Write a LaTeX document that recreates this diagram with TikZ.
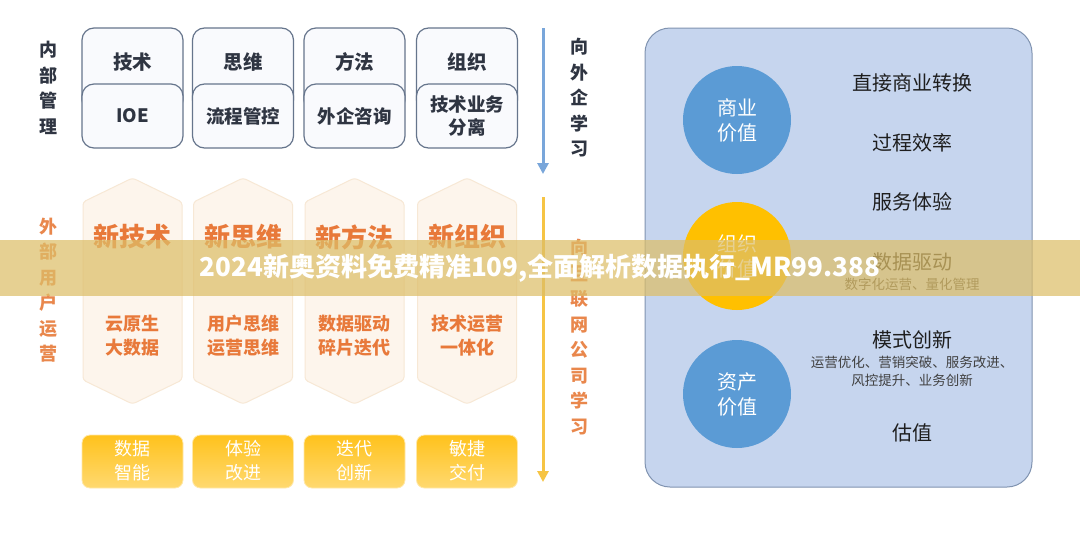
\documentclass[tikz,border=0pt]{standalone}
\usepackage{fontspec}
\setmainfont{Noto Sans CJK SC}
\usetikzlibrary{arrows.meta}
\definecolor{darkTxt}{HTML}{2F3542}
\definecolor{boxBorder}{HTML}{66758C}
\definecolor{boxFill}{HTML}{F9FAFD}
\definecolor{hexFill}{HTML}{FDF5EC}
\definecolor{hexEdge}{HTML}{F7E8D5}
\definecolor{orangeTxt}{HTML}{E8793A}
\definecolor{orangeLbl}{HTML}{E9874C}
\definecolor{yellowTop}{HTML}{FFC21C}
\definecolor{yellowBot}{HTML}{FFD970}
\definecolor{blueArrow}{HTML}{79A6DA}
\definecolor{orangeArrow}{HTML}{F6C444}
\definecolor{panelFill}{HTML}{C6D5EE}
\definecolor{panelEdge}{HTML}{8093B0}
\definecolor{blueCircle}{HTML}{5B9BD5}
\definecolor{yellowCircle}{HTML}{FFC000}
\definecolor{rightTxt}{HTML}{1E1E1E}
\definecolor{subTxt}{HTML}{404040}
\definecolor{bannerCol}{HTML}{DDBE68}
\newcommand\myfs[2]{\fontsize{#1}{#2}\selectfont}
\begin{document}
\begin{tikzpicture}[x=1pt,y=-1pt,
  vlabel/.style={align=center,inner sep=0pt,font=\myfs{18}{25.5}\bfseries},
  topbox/.style={draw=boxBorder,line width=1.2pt,fill=boxFill,rounded corners=12pt},
  toptxt/.style={align=center,inner sep=0pt,text=darkTxt,font=\myfs{19.5}{24}\bfseries},
  lowtxt/.style={align=center,inner sep=0pt,text=darkTxt,font=\myfs{18.5}{23}\bfseries},
  hexagonbox/.style={fill=hexFill,draw=hexEdge,line width=1pt,rounded corners=3pt},
  hextitle/.style={inner sep=0pt,text=orangeTxt,font=\myfs{26}{30}\bfseries},
  hexsub/.style={align=center,inner sep=0pt,text=orangeTxt,font=\myfs{18}{24}\bfseries},
  yellowbox/.style={rounded corners=8pt,top color=yellowTop,bottom color=yellowBot,draw=yellowBot!60!white,line width=0.8pt},
  yellowtxt/.style={align=center,inner sep=0pt,text=white,font=\myfs{18}{24}},
  flowarrow/.style={line width=3pt,-{Triangle[length=11pt,width=11pt]}},
  valcircle/.style={circle,minimum size=108pt,inner sep=0pt,align=center,text=white,font=\myfs{20}{25}},
  rtxt/.style={inner sep=0pt,text=rightTxt,font=\myfs{20}{24}},
  rsub/.style={align=center,inner sep=0pt,text=subTxt,font=\myfs{13.5}{18}},
  bannertxt/.style={inner sep=0pt,text=white,font=\myfs{26}{30}\bfseries}
]
\useasboundingbox (0,0) rectangle (1080,536);
\fill[white] (0,0) rectangle (1080,536);

% left vertical labels
\node[vlabel,text=darkTxt] (lblIn) at (48,88) {内\\部\\管\\理};
\node[vlabel,text=orangeLbl] (lblOut) at (48,290) {外\\部\\用\\户\\运\\营};

% columns
\foreach \i/\cx/\upt/\lowt/\htitle/\hsubt/\ybt in {
  1/132.5/技术/IOE/新技术/{云原生\\大数据}/{数据\\智能},
  2/243/思维/流程管控/新思维/{用户思维\\运营思维}/{体验\\改进},
  3/354.5/方法/外企咨询/新方法/{数据驱动\\碎片迭代}/{迭代\\创新},
  4/467/组织/{技术业务\\分离}/新组织/{技术运营\\一体化}/{敏捷\\交付}}{
  \draw[topbox] (\cx-50.5,28) rectangle (\cx+50.5,112);
  \node[toptxt] (up\i) at (\cx,62) {\upt};
  \draw[topbox] (\cx-50.5,84) rectangle (\cx+50.5,148);
  \node[lowtxt] (low\i) at (\cx,116) {\lowt};
  \filldraw[hexagonbox] (\cx,178) -- (\cx+49.5,202) -- (\cx+49.5,380) -- (\cx,404)
     -- (\cx-49.5,380) -- (\cx-49.5,202) -- cycle;
  \node[hextitle] (ht\i) at (\cx,237) {\htitle};
  \node[hexsub] (hs\i) at (\cx,336) {\hsubt};
  \draw[yellowbox] (\cx-50.5,435) rectangle (\cx+50.5,488);
  \node[yellowtxt] (yb\i) at (\cx,461) {\ybt};
}

% arrows
\coordinate (bA) at (543,28);
\coordinate (bB) at (543,174);
\draw[flowarrow,blueArrow] (bA) -- (bB);
\coordinate (oA) at (543,197);
\coordinate (oB) at (543,482);
\draw[flowarrow,orangeArrow] (oA) -- (oB);
\node[vlabel,text=darkTxt] (lblExt) at (579,98) {向\\外\\企\\学\\习};
\node[vlabel,text=orangeLbl] (lblNet) at (579,337) {向\\互\\联\\网\\公\\司\\学\\习};

% right panel
\draw[fill=panelFill,draw=panelEdge,line width=1pt,rounded corners=25pt] (645,28) rectangle (1032,487);
\node[valcircle,fill=blueCircle] (cBiz) at (737,120) {商业\\价值};
\node[valcircle,fill=yellowCircle] (cOrg) at (737,256) {组织\\价值};
\node[valcircle,fill=blueCircle] (cAsset) at (737,394) {资产\\价值};

\node[rtxt] (r1) at (912,83) {直接商业转换};
\node[rtxt] (r2) at (912,143) {过程效率};
\node[rtxt] (r3) at (912,202) {服务体验};
\node[rtxt] (r4) at (912,262) {数据驱动};
\node[rsub] (r4s) at (912,284) {数字化运营、量化管理};
\node[rtxt] (r5) at (912,340) {模式创新};
\node[rsub] (r5s) at (912,371) {运营优化、营销突破、服务改进、\\风控提升、业务创新};
\node[rtxt] (r6) at (912,433) {估值};

% banner
\fill[bannerCol,opacity=0.72] (0,240) rectangle (1080,296);
\node[bannertxt] (ban) at (540,268) {2024新奥资料免费精准109,全面解析数据执行\_MR99.388};
\end{tikzpicture}
\end{document}
